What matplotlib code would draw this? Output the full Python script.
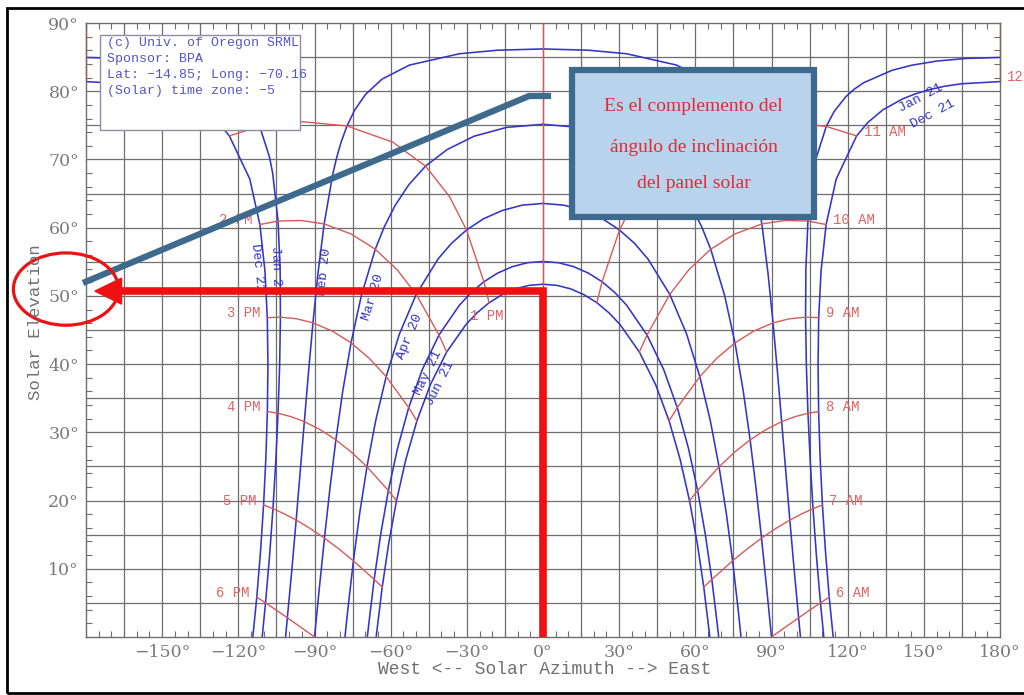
import matplotlib.pyplot as plt
from matplotlib.patches import Rectangle, Ellipse, Polygon

# Sun path chart, Lat -14.85 / Long -70.16, solar time.
# Morning half of each day, sunrise -> solar noon:
# azimuth in degrees east of north, elevation in degrees.
# The afternoon half is the same path on the west side.
jun21_az = [65.7, 65.46, 63.32, 60.76, 57.71, 54.06, 49.67, 44.36, 37.95, 30.26, 25.91, 21.22,
            16.22, 10.97, 5.53, 0.0]
jun21_el = [0.0, 0.79, 7.33, 13.74, 19.97, 25.97, 31.68, 36.99, 41.77, 45.84, 47.54, 49.00,
            50.16, 51.02, 51.54, 51.71]

may21_az = [69.2, 68.67, 66.50, 63.94, 60.91, 57.28, 52.89, 47.54, 40.97, 32.94, 28.32, 23.28,
            17.87, 12.12, 6.12, 0.0]
may21_el = [0.0, 1.74, 8.44, 15.03, 21.46, 27.68, 33.63, 39.20, 44.27, 48.63, 50.48, 52.07,
            53.34, 54.28, 54.86, 55.04]

apr20_az = [78.0, 76.84, 74.67, 72.21, 69.34, 65.93, 61.77, 56.57, 49.94, 41.33, 36.08, 30.13,
            23.45, 16.09, 8.19, 0.0]
apr20_el = [0.0, 4.13, 11.16, 18.11, 24.95, 31.66, 38.17, 44.40, 50.22, 55.41, 57.69, 59.66,
            61.30, 62.51, 63.30, 63.55]

mar20_az = [90.0, 88.07, 86.07, 83.94, 81.58, 78.87, 75.62, 71.53, 66.06, 62.54, 58.25, 52.94,
            46.27, 37.81, 27.19, 14.34, 0.0]
mar20_el = [0.0, 7.25, 14.49, 21.71, 28.90, 36.05, 43.12, 50.07, 56.84, 60.10, 63.25, 66.25,
            69.02, 71.44, 73.40, 74.70, 75.15]

feb20_az = [101.4, 100.69, 98.90, 97.22, 95.61, 94.00, 92.36, 90.61, 88.63, 86.20, 82.85, 81.34,
            79.51, 77.20, 74.15, 69.88, 63.41, 52.63, 32.96, 17.92, 0.0]
feb20_el = [0.0, 2.82, 9.96, 17.14, 24.34, 31.57, 38.80, 46.05, 53.30, 60.55, 67.75, 70.17,
            72.55, 74.91, 77.25, 79.54, 81.77, 83.83, 85.49, 86.01, 86.20]

jan21_az = [110.6, 109.29, 107.70, 106.36, 105.25, 104.36, 103.73, 103.42, 103.54, 104.35, 106.47,
            107.68, 111.57, 114.72, 119.32, 122.41, 126.27, 137.34, 145.21, 155.07, 166.89, 180.0]
jan21_el = [0.0, 5.00, 11.88, 18.81, 25.79, 32.80, 39.83, 46.88, 53.93, 60.97, 67.97,
            70.28, 74.84, 77.06, 79.21, 80.25, 81.24, 83.05, 83.81, 84.42, 84.81, 84.95]

dec21_az = [114.3, 112.73, 111.25, 110.06, 109.16, 108.56, 108.34, 108.59, 109.52, 111.52, 115.47,
            123.53, 127.96, 133.83, 141.65, 146.47, 151.98, 158.18, 165.02, 180.0]
dec21_el = [0.0, 5.85, 12.58, 19.36, 26.19, 33.05, 39.93, 46.81, 53.66, 60.46, 67.11,
            73.45, 75.43, 77.26, 78.88, 79.59, 80.21, 80.73, 81.10, 81.41]

# Hour lines (morning side), from the Jun 21 path to the Dec 21 path
am_labels = ['11 AM', '10 AM', '9 AM', '8 AM', '7 AM', '6 AM']
pm_labels = ['1 PM', '2 PM', '3 PM', '4 PM', '5 PM', '6 PM']
hour_az = [
    [21.22, 23.28, 30.13, 36.82, 46.27, 59.17, 77.20, 94.53, 111.57, 123.53],
    [37.95, 40.97, 49.94, 57.37, 66.06, 75.54, 86.20, 95.27, 104.35, 111.52],
    [49.67, 52.89, 61.77, 68.44, 75.62, 82.89, 90.61, 97.00, 103.42, 108.59],
    [57.71, 60.91, 69.34, 75.35, 81.58, 87.68, 94.00, 99.18, 104.36, 108.56],
    [63.32, 66.50, 74.67, 80.33, 86.07, 91.59, 97.22, 101.80, 106.36, 110.06],
    [90.00, 95.32, 100.69, 105.01, 109.29, 112.73],
]
hour_el = [
    [49.00, 52.07, 59.66, 64.56, 69.02, 72.53, 74.91, 75.52, 74.84, 73.45],
    [41.77, 44.27, 50.22, 53.80, 56.84, 59.07, 60.55, 61.05, 60.97, 60.46],
    [31.68, 33.63, 38.17, 40.85, 43.12, 44.82, 46.05, 46.64, 46.88, 46.81],
    [19.97, 21.46, 24.95, 27.06, 28.90, 30.37, 31.57, 32.29, 32.80, 33.05],
    [7.33, 8.44, 11.16, 12.89, 14.49, 15.88, 17.14, 18.03, 18.81, 19.36],
    [0.00, 1.41, 2.82, 3.93, 5.00, 5.85],
]
# solar noon: north side (azimuth 0) and south side (azimuth +-180)
noon_north_el = [51.71, 55.04, 63.55, 75.15, 86.20, 90.0]
noon_south_el = [90.0, 84.95, 81.41]

date_labels = ['Dec 21', 'Jan 21', 'Feb 20', 'Mar 20', 'Apr 20', 'May 21', 'Jun 21']
info_lines = ['(c) Univ. of Oregon SRML', 'Sponsor: BPA',
              'Lat: \u221214.85; Long: \u221270.16', '(Solar) time zone: \u22125']
note_lines = ['Es el complemento del', '\u00e1ngulo de inclinaci\u00f3n', 'del panel solar']

# overlay marks: elevation picked out by the arrow, pointer line
arrow_el = 50.7
pointer_az = [-181.2, -5.5, 3.2]
pointer_el = [51.9, 79.3, 79.3]

BLUE = '#3434c6'
RED = '#d65a5a'
RED_TXT = '#e06464'
GRID = '#6e6e6e'
MONO = ['Liberation Mono', 'DejaVu Sans Mono']

fig = plt.figure(figsize=(10.24, 6.95), dpi=100)
ax = fig.add_axes([86 / 1024, 58 / 695, 914 / 1024, 614 / 695])
ax.set_xlim(-180, 180)
ax.set_ylim(0, 90)

# grid: 15 deg azimuth, 5 deg elevation
for x in range(-165, 180, 15):
    ax.axvline(x, color=GRID, lw=0.9, zorder=0.5)
for y in range(5, 90, 5):
    ax.axhline(y, color=GRID, lw=0.9, zorder=0.5)

# date curves, both halves of the day
paths = [(jun21_az, jun21_el), (may21_az, may21_el), (apr20_az, apr20_el), (mar20_az, mar20_el),
         (feb20_az, feb20_el), (jan21_az, jan21_el), (dec21_az, dec21_el)]
for az, el in paths:
    ax.plot(az, el, color=BLUE, lw=1.15, zorder=2)
    ax.plot([-a for a in az], el, color=BLUE, lw=1.15, zorder=2)

# hour lines
for i in range(len(hour_az)):
    az, el = hour_az[i], hour_el[i]
    ax.plot(az, el, color=RED, lw=1.0, zorder=2.5)
    ax.plot([-a for a in az], el, color=RED, lw=1.0, zorder=2.5)
    ax.annotate(am_labels[i], (az[-1], el[-1]), xytext=(5, 3), textcoords='offset points',
                ha='left', va='center', color=RED_TXT, fontsize=10, family=MONO, zorder=3)
    if i == 0:
        ax.text(-28.7, 47.1, pm_labels[i], ha='left', va='center', color=RED_TXT,
                fontsize=10, family=MONO, zorder=3)
    else:
        ax.annotate(pm_labels[i], (-az[-1], el[-1]), xytext=(-5, 3), textcoords='offset points',
                    ha='right', va='center', color=RED_TXT, fontsize=10, family=MONO, zorder=3)

ax.plot([0] * len(noon_north_el), noon_north_el, color=RED, lw=1.0, zorder=2.5)
ax.plot([180] * len(noon_south_el), noon_south_el, color=RED, lw=1.0, zorder=2.5, clip_on=False)
ax.plot([-180] * len(noon_south_el), noon_south_el, color=RED, lw=1.0, zorder=2.5, clip_on=False)
ax.annotate('12', (180, noon_south_el[-1]), xytext=(5, 3), textcoords='offset points',
            ha='left', va='center', color=RED_TXT, fontsize=10, family=MONO,
            annotation_clip=False)

# date labels along the curves
label_pos = [(-112.3, 54.1, -84), (-105.2, 53.8, -88), (-85.9, 53.5, 84), (-67.0, 49.8, 73),
             (-52.4, 44.0, 67), (-45.3, 38.7, 64), (-40.6, 37.2, 63)]
for name, (x, y, rot) in zip(date_labels, label_pos):
    ax.text(x, y, name, rotation=rot, rotation_mode='anchor', ha='center', va='center',
            color=BLUE, fontsize=9.5, family=MONO, zorder=3)
for name, (x, y) in zip(['Jan 21', 'Dec 21'], [(148.9, 79.0), (153.6, 76.7)]):
    ax.text(x, y, name, rotation=28, rotation_mode='anchor', ha='center', va='center',
            color=BLUE, fontsize=9.5, family=MONO, zorder=3)

# axes, ticks
ax.set_xticks(range(-150, 181, 30))
ax.set_xticklabels([f'{v}\u00b0'.replace('-', '\u2212') for v in range(-150, 181, 30)])
ax.set_yticks(range(10, 91, 10))
ax.set_yticklabels([f'{v}\u00b0' for v in range(10, 91, 10)])
ax.set_xticks(range(-180, 181, 5), minor=True)
ax.set_yticks(range(0, 91, 2), minor=True)
ax.tick_params(which='both', direction='in', top=True, right=True, color='#6e6e6e', width=0.8)
ax.tick_params(which='major', length=0, labelsize=12.5, labelcolor='#7a7a7a', pad=5)
ax.tick_params(which='minor', length=4)
for lab in ax.get_xticklabels() + ax.get_yticklabels():
    lab.set_family('DejaVu Serif')
for sp in ax.spines.values():
    sp.set_color('#6e6e6e')
    sp.set_linewidth(1.0)

fig.text(545 / 1024, 1 - 669 / 695, 'West <-- Solar Azimuth --> East', ha='center', va='center',
         color='#707070', fontsize=13, family=MONO)
fig.text(36 / 1024, 1 - 322 / 695, 'Solar Elevation', rotation=90, ha='center', va='center',
         color='#707070', fontsize=12.5, family=MONO)

# info box
ax.add_patch(Rectangle((-174.5, 74.3), 78.8, 13.9, facecolor='white', edgecolor='#8c8ca8',
                       lw=1.0, zorder=4))
for i, line in enumerate(info_lines):
    ax.text(-171.8, 87.1 - 2.35 * i, line, ha='left', va='center', color='#5555c8',
            fontsize=9.5, family=MONO, zorder=4.5)

# pointer line and note box
ax.plot(pointer_az, pointer_el, color='#3e6a8e', lw=4.5, solid_capstyle='butt',
        solid_joinstyle='miter', zorder=5, clip_on=False)
ax.add_patch(Rectangle((11.6, 61.6), 95.2, 21.5, facecolor='#bad3ec', edgecolor='#3e6a8e',
                       lw=4.5, zorder=5))
for i, line in enumerate(note_lines):
    ax.text(59.3, 77.7 - [0, 5.9, 11.2][i], line, ha='center', va='center', color='#e02a36',
            fontsize=14, family=['Liberation Serif', 'DejaVu Serif'], zorder=6)

# red arrow up from 0 deg azimuth, across to the elevation scale
ax.plot([0, 0, -167], [0, arrow_el, arrow_el], color='#ee1111', lw=5.5,
        solid_capstyle='butt', solid_joinstyle='miter', zorder=7, clip_on=False)
ax.add_patch(Polygon([(-176.5, arrow_el), (-166, arrow_el + 1.9), (-166, arrow_el - 1.9)],
                     closed=True, color='#ee1111', zorder=7, clip_on=False))
ax.add_patch(Ellipse((-187.9, 51.0), 41.4, 10.6, fill=False, edgecolor='#ee1111', lw=2.3,
                     zorder=7, clip_on=False))

# outer frame
fig.add_artist(Rectangle((7 / 1024, 2 / 695), 1.02, 685 / 695, transform=fig.transFigure,
                         fill=False, edgecolor='black', lw=2.0))

fig.savefig('out.png', dpi=100)
